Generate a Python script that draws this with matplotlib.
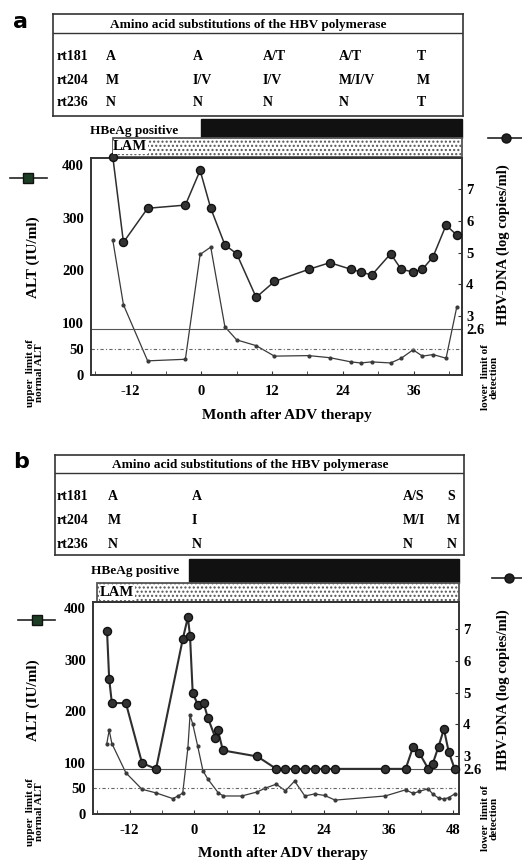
import matplotlib
matplotlib.use('Agg')
import matplotlib.pyplot as plt
import matplotlib.transforms as mtransforms
from matplotlib.patches import Rectangle
from matplotlib.lines import Line2D

W, H = 522, 860

# ---- panel a data ----
months_a = [-15.0, -13.2, -9.1, -2.7, -0.2, 1.6, 4.0, 6.0, 9.3, 12.4, 18.2, 21.8,
            25.4, 27.0, 28.9, 32.1, 33.9, 35.9, 37.5, 39.3, 41.5, 43.3]
dna_a = [8.0, 5.32, 6.39, 6.49, 7.58, 6.39, 5.24, 4.96, 3.59, 4.09, 4.47, 4.68,
         4.47, 4.39, 4.29, 4.96, 4.47, 4.39, 4.47, 4.87, 5.86, 5.55]
alt_a = [257, 134, 27, 30, 230, 244, 92, 67, 56, 36, 37, 33,
         25, 23, 25, 23, 32, 48, 36, 39, 32, 129]
hbeag_start_a = 0
lam_start_a = -15
rt181_a = ['A', 'A', 'A/T', 'A/T', 'T']
rt204_a = ['M', 'I/V', 'I/V', 'M/I/V', 'M']
rt236_a = ['N', 'N', 'N', 'N', 'T']

# ---- panel b data ----
months_b_dna = [-16.2, -15.8, -15.3, -12.7, -9.7, -7.1, -2.15, -1.2, -0.8, -0.3, 0.7,
                1.7, 2.5, 3.9, 4.35, 5.3, 11.7, 15.2, 16.9, 18.6, 20.5, 22.3, 24.2,
                26.1, 35.4, 39.2, 40.6, 41.7, 43.4, 44.2, 45.3, 46.3, 47.2, 48.3]
dna_b = [6.95, 5.43, 4.67, 4.67, 2.78, 2.6, 6.68, 7.37, 6.78, 4.98, 4.6,
         4.68, 4.21, 3.58, 3.83, 3.18, 2.99, 2.6, 2.6, 2.6, 2.6, 2.6, 2.6,
         2.6, 2.6, 2.6, 3.3, 3.11, 2.6, 2.75, 3.3, 3.85, 3.13, 2.6]
months_b_alt = [-16.25, -15.8, -15.3, -12.7, -9.7, -7.1, -4.0, -3.0, -2.15, -1.2, -0.8,
                -0.3, 0.6, 1.6, 2.5, 4.45, 5.4, 8.8, 11.7, 13.1, 15.2, 16.9, 18.6,
                20.5, 22.3, 24.2, 26.1, 35.4, 39.2, 40.6, 41.7, 43.4, 44.2, 45.3,
                46.3, 47.2, 48.3]
alt_b = [136, 163, 137, 80, 48, 41, 30, 35, 41, 128, 192,
         175, 133, 84, 68, 41, 35, 35, 43, 50, 58, 45, 64,
         35, 39, 36, 27, 35, 47, 40, 44, 49, 39, 31,
         29, 32, 39]
hbeag_start_b = -1
lam_start_b = -18
rt181_b = ['A', 'A', 'A/S', 'S']
rt204_b = ['M', 'I', 'M/I', 'M']
rt236_b = ['N', 'N', 'N', 'N']

alt_ticks = [0, 50, 100, 200, 300, 400]
dna_ticks = [2.6, 3, 4, 5, 6, 7]
dna_ticklabels = ['2.6', '3', '4', '5', '6', '7']
alt_uln = 50
dna_lld = 2.6

plt.rcParams['font.family'] = ['Liberation Serif', 'DejaVu Serif']
plt.rcParams['font.weight'] = 'bold'
plt.rcParams['axes.unicode_minus'] = False

fig = plt.figure(figsize=(W / 100, H / 100), dpi=100)


def px_rect(l, t, r, b):
    return [l / W, 1 - b / H, (r - l) / W, (b - t) / H]


def ftext(x, y, s, **kw):
    fig.text(x / W, 1 - y / H, s, **kw)


def fline(x0, x1, y, **kw):
    fig.add_artist(Line2D([x0 / W, x1 / W], [1 - y / H, 1 - y / H],
                          transform=fig.transFigure, **kw))


def draw_panel(L, m_dna, dna, m_alt, alt, hbeag_start, lam_start, rows, xlim,
               altlim, dnalim, xticks_max, dna_lw):
    # substitution table
    tab = fig.add_axes(px_rect(*L['table']))
    tab.set_xticks([])
    tab.set_yticks([])
    for s in tab.spines.values():
        s.set_linewidth(1.2)
        s.set_color('#333333')
    t_top, t_sep, t_bot = L['table'][1], L['sep'], L['table'][3]
    tab.axhline((t_bot - t_sep) / (t_bot - t_top), color='#333333', lw=1.0)
    ftext(L['head'][0], L['head'][1], 'Amino acid substitutions of the HBV polymerase',
          ha='center', va='center', fontsize=9.5)
    names = ['rt181', 'rt204', 'rt236']
    for name, vals, yy in zip(names, rows, L['row_y']):
        ftext(57, yy, name, ha='left', va='center', fontsize=10)
        for v, xx in zip(vals, L['cols']):
            ftext(xx, yy, v, ha='left', va='center', fontsize=10)

    # main axes
    l, t, r, b = L['ax']
    ax = fig.add_axes(px_rect(l, t, r, b))
    ax.plot(m_alt, alt, color='#3a3a3a', lw=0.9, marker='o', ms=2,
            mfc='#3a3a3a', mec='#3a3a3a')
    ax.axhline(alt_uln, color='#666666', lw=0.8, ls=(0, (3, 2, 1, 2)))
    ax.set_xlim(*xlim)
    ax.set_ylim(*altlim)
    ax.set_yticks(alt_ticks)
    ax.set_xticks(list(range(-12, xticks_max + 1, 12)))
    ax.set_xticks(list(range(-18, xticks_max + 1, 6)), minor=True)
    ax.tick_params(axis='x', which='both', direction='in', length=3, pad=7,
                   labelsize=10.5, color='#333333')
    ax.tick_params(axis='y', length=0, pad=5, labelsize=10.5)
    for s in ax.spines.values():
        s.set_linewidth(1.2)
        s.set_color('#333333')

    ax2 = ax.twinx()
    ax2.plot(m_dna, dna, color='#2e2e2e', lw=dna_lw, marker='o', ms=5.8,
             mfc='#333333', mec='#111111', clip_on=False, zorder=3)
    ax2.axhline(dna_lld, color='#555555', lw=0.8)
    ax2.set_ylim(*dnalim)
    ax2.set_yticks(dna_ticks)
    ax2.set_yticklabels(dna_ticklabels)
    ax2.tick_params(axis='y', direction='in', length=3, pad=3, labelsize=10.5,
                    color='#333333')
    for s in ax2.spines.values():
        s.set_linewidth(1.2)
        s.set_color('#333333')

    # HBeAg / LAM bars above the axes
    hgt = b - t
    trans = mtransforms.blended_transform_factory(ax.transData, ax.transAxes)
    hb0, hb1 = L['hbeag']
    ax.add_patch(Rectangle((hbeag_start, (b - hb1) / hgt), xlim[1] - hbeag_start,
                           (hb1 - hb0) / hgt, transform=trans, clip_on=False,
                           facecolor='#111111', edgecolor='#111111'))
    lm0, lm1 = L['lam']
    ax.add_patch(Rectangle((lam_start, (b - lm1) / hgt), xlim[1] - lam_start,
                           (lm1 - lm0) / hgt, transform=trans, clip_on=False,
                           facecolor='white', edgecolor='#555555', hatch='....',
                           lw=1.3))
    ftext(L['hbeag_txt'][0], L['hbeag_txt'][1], 'HBeAg positive', ha='left',
          va='center', fontsize=9.5)
    ftext(L['lam_txt'][0], L['lam_txt'][1], 'LAM', ha='left', va='center',
          fontsize=10.5, bbox=dict(facecolor='white', edgecolor='none', pad=0.3))

    # labels
    ftext(33, L['alt_lab_y'], 'ALT (IU/ml)', rotation=90, ha='center', va='center',
          fontsize=11)
    ftext(35, L['uln_y'], 'upper  limit of\nnormal ALT', rotation=90, ha='center',
          va='center', fontsize=8, linespacing=0.95)
    ftext(503, L['dna_lab_y'], 'HBV-DNA (log copies/ml)', rotation=90, ha='center',
          va='center', fontsize=10.5)
    ftext(490, L['lld_y'], 'lower  limit of\ndetection', rotation=90, ha='center',
          va='center', fontsize=8, linespacing=0.95)
    ftext(L['xlab'][0], L['xlab'][1], 'Month after ADV therapy', ha='center',
          va='center', fontsize=11)

    # legend glyphs
    lx0, lx1, ly, sqx = L['leg_sq']
    fline(lx0, lx1, ly, color='#222222', lw=1.2)
    fig.add_artist(Line2D([sqx / W], [1 - ly / H], transform=fig.transFigure,
                          marker='s', ms=7, mfc='#1d3d25', mec='#111111'))
    cx0, cx1, cyy, ccx = L['leg_ci']
    fline(cx0, cx1, cyy, color='#222222', lw=1.2)
    fig.add_artist(Line2D([ccx / W], [1 - cyy / H], transform=fig.transFigure,
                          marker='o', ms=6.5, mfc='#222222', mec='#111111'))


layout_a = dict(table=(53, 14, 463, 116), sep=33, head=(248, 25),
                row_y=[57, 80, 103], cols=[106, 193, 263, 339, 417],
                ax=(91, 158, 462, 375), hbeag=(119, 138), lam=(138, 157),
                hbeag_txt=(90, 131), lam_txt=(113, 147), alt_lab_y=257,
                uln_y=373, dna_lab_y=245, lld_y=377, xlab=(287, 415),
                leg_sq=(10, 47, 178, 28), leg_ci=(488, 522, 138, 506))
layout_b = dict(table=(55, 455, 464, 555), sep=473, head=(250, 465),
                row_y=[497, 520, 544], cols=[108, 192, 403, 447],
                ax=(93, 602, 459, 814), hbeag=(559, 583), lam=(583, 602),
                hbeag_txt=(91, 571), lam_txt=(100, 593), alt_lab_y=700,
                uln_y=812, dna_lab_y=690, lld_y=818, xlab=(283, 854),
                leg_sq=(18, 55, 620, 37), leg_ci=(492, 522, 578, 509))

draw_panel(layout_a, months_a, dna_a, months_a, alt_a, hbeag_start_a, lam_start_a,
           [rt181_a, rt204_a, rt236_a], (-18.7, 44.2), (0, 414), (1.15, 7.97), 42, 1.1)
draw_panel(layout_b, months_b_dna, dna_b, months_b_alt, alt_b, hbeag_start_b,
           lam_start_b, [rt181_b, rt204_b, rt236_b], (-18.8, 49.1), (0, 412),
           (1.18, 7.85), 48, 1.5)

ftext(13, 28, 'a', ha='left', va='baseline', fontsize=16, family='DejaVu Sans',
      weight='bold')
ftext(13, 468, 'b', ha='left', va='baseline', fontsize=16, family='DejaVu Sans',
      weight='bold')

fig.savefig('out.png', dpi=100)
